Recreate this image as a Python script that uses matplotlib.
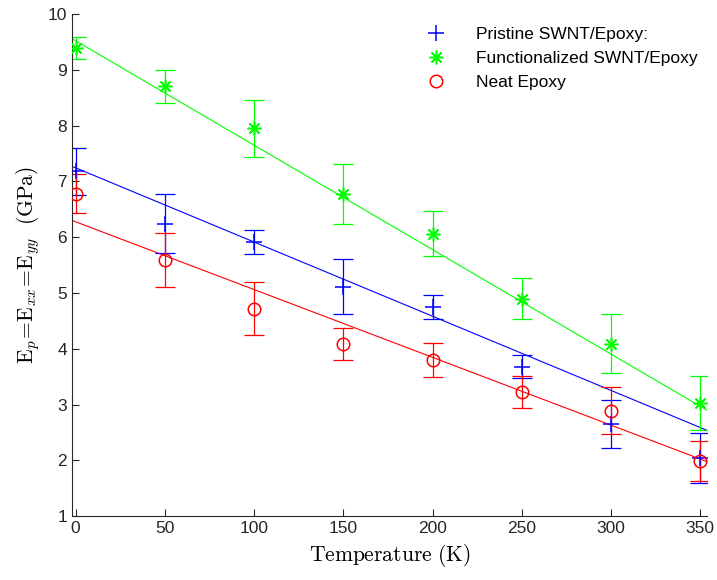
"""Young's modulus of SWNT/epoxy composites versus temperature."""
import matplotlib
matplotlib.use("Agg")
import matplotlib.pyplot as plt
import numpy as np

# Temperatures (K)
temperature = [0, 50, 100, 150, 200, 250, 300, 350]

# Measured moduli (GPa) and error half-widths
pristine = [7.18, 6.24, 5.91, 5.11, 4.75, 3.68, 2.66, 2.04]
pristine_err = [0.42, 0.53, 0.21, 0.49, 0.21, 0.20, 0.43, 0.45]
functionalized = [9.39, 8.70, 7.95, 6.77, 6.06, 4.90, 4.09, 3.03]
functionalized_err = [0.20, 0.30, 0.51, 0.54, 0.40, 0.36, 0.53, 0.49]
neat = [6.78, 5.59, 4.72, 4.09, 3.80, 3.22, 2.89, 1.99]
neat_err = [0.35, 0.48, 0.47, 0.29, 0.30, 0.29, 0.42, 0.36]

# Linear fits: (intercept, slope)
pristine_fit = (7.243, -0.01330)
functionalized_fit = (9.520, -0.01872)
neat_fit = (6.276, -0.01215)

series = [
    ("Pristine SWNT/Epoxy:", pristine, pristine_err, pristine_fit,
     (0, 0, 1), "+", 11),
    ("Functionalized SWNT/Epoxy", functionalized, functionalized_err,
     functionalized_fit, (0, 1, 0), (8, 2, 0), 10),
    ("Neat Epoxy", neat, neat_err, neat_fit, (1, 0, 0), "o", 9),
]

plt.rcParams.update({"font.family": ["Liberation Sans", "DejaVu Sans"],
                     "mathtext.fontset": "cm"})

fig = plt.figure(figsize=(7.17, 5.80), dpi=100)
ax = fig.add_axes([0.1004, 0.110, 0.8856, 0.866])

xmin, xmax = -2, 353.7
xfit = np.array([xmin, xmax])

handles = []
for label, vals, errs, (b, m), color, marker, ms in series:
    ax.errorbar(temperature, vals, yerr=errs, fmt="none", ecolor=color,
                elinewidth=0.9, capsize=7, capthick=0.9, zorder=2)
    ax.plot(xfit, b + m * xfit, color=color, linewidth=0.8, zorder=1)
    h, = ax.plot(temperature, vals, linestyle="none", marker=marker,
                 markersize=ms, markerfacecolor="none",
                 markeredgecolor=color, markeredgewidth=1.1, zorder=3,
                 label=label)
    handles.append(h)

ax.set_xlim(xmin, xmax)
ax.set_ylim(1, 10)
ax.set_xticks(np.arange(0, 351, 50))
ax.set_yticks(np.arange(1, 11, 1))

for side in ("top", "right"):
    ax.spines[side].set_visible(False)
for side in ("left", "bottom"):
    ax.spines[side].set_color("#262626")
    ax.spines[side].set_linewidth(0.8)
ax.tick_params(direction="in", length=5, width=0.8, color="#262626",
               labelcolor="#262626", labelsize=12.5)

ax.set_xlabel(r"$\mathrm{Temperature\ (K)}$", fontsize=15.5, labelpad=4)
ax.set_ylabel(r"$\mathrm{E}_p\!=\!\mathrm{E}_{xx}\!=\!\mathrm{E}_{yy}"
              r"\ \ \mathrm{(GPa)}$", fontsize=15.5, labelpad=4)

ax.legend(handles=handles, loc="upper right", frameon=False, fontsize=12.5,
          handlelength=1.0, handletextpad=1.8, labelspacing=0.5,
          bbox_to_anchor=(1.01, 1.005))

fig.savefig("out.png", dpi=100)
